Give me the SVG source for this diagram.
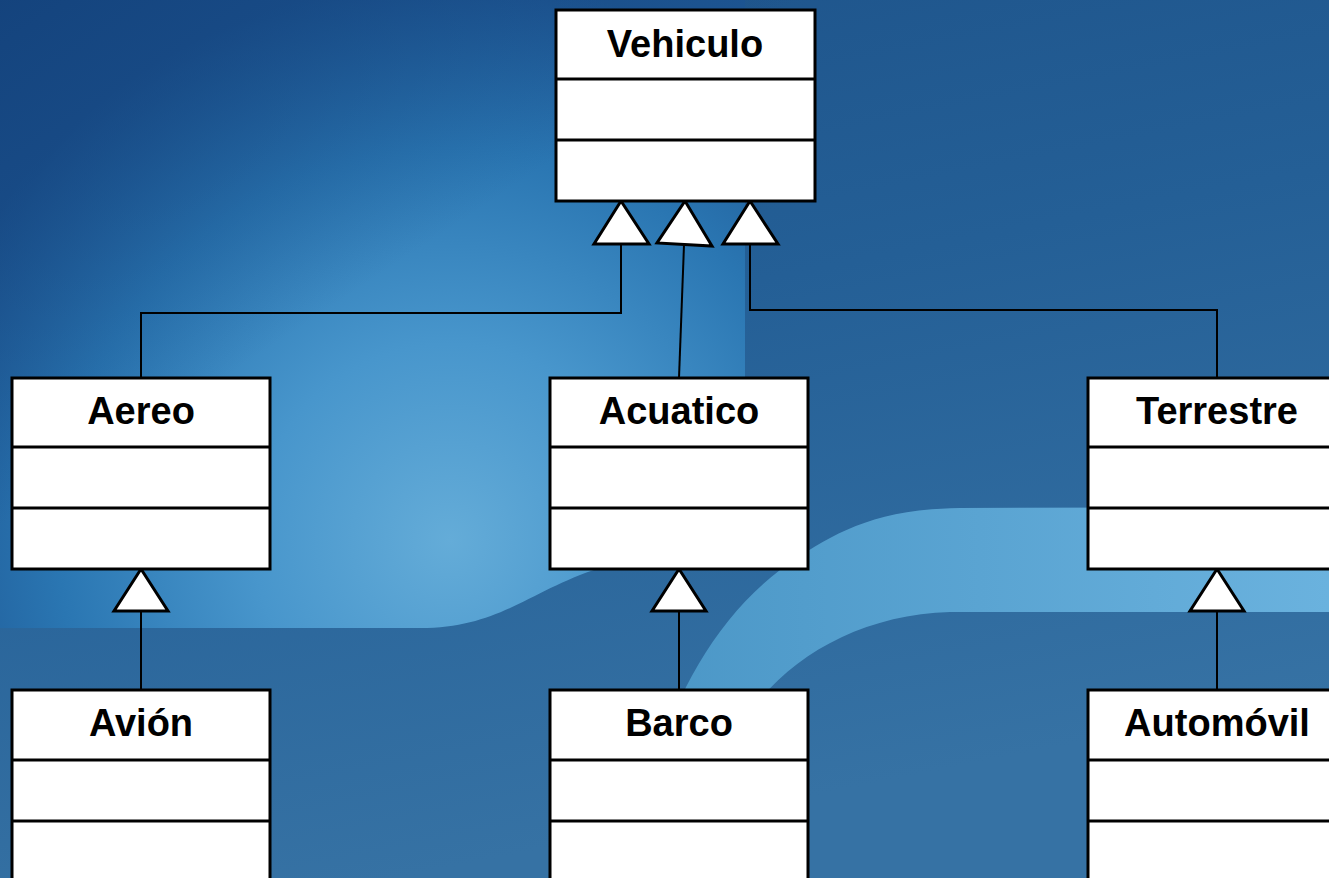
<svg xmlns="http://www.w3.org/2000/svg" width="1329" height="878" viewBox="0 0 1329 878">
<defs>
<linearGradient id="base" x1="0" y1="0" x2="0.3" y2="1">
<stop offset="0" stop-color="#1d5289"/>
<stop offset="0.45" stop-color="#245f96"/>
<stop offset="1" stop-color="#3672a4"/>
</linearGradient>
<radialGradient id="blob" cx="450" cy="540" r="560" gradientUnits="userSpaceOnUse">
<stop offset="0" stop-color="#64acd8"/>
<stop offset="0.35" stop-color="#4896cc"/>
<stop offset="0.7" stop-color="#2a76b2"/>
<stop offset="1" stop-color="#1d5592"/>
</radialGradient>
<linearGradient id="tl" x1="0" y1="0" x2="0.6" y2="0.6">
<stop offset="0" stop-color="#123f78" stop-opacity="0.8"/>
<stop offset="0.5" stop-color="#123f78" stop-opacity="0"/>
</linearGradient>
<linearGradient id="band" x1="630" y1="0" x2="1329" y2="0" gradientUnits="userSpaceOnUse">
<stop offset="0" stop-color="#4a96c6"/>
<stop offset="1" stop-color="#6ab2de"/>
</linearGradient>
<style>
.box{fill:#fff;stroke:#000;stroke-width:3}
.div{stroke:#000;stroke-width:3}
.t{font-family:"Liberation Sans",Arial,sans-serif;font-weight:bold;font-size:38px;text-anchor:middle;fill:#000}
.c{fill:none;stroke:#000;stroke-width:2}
.tri{fill:#fff;stroke:#000;stroke-width:3;stroke-linejoin:miter}
</style>
</defs>
<g id="background">
<rect x="0" y="0" width="1329" height="878" fill="url(#base)"/>
<path d="M-10,-10 L745,-10 L745,380 C745,470 700,540 600,568 C530,590 500,628 420,628 L-10,628 Z" fill="url(#blob)"/>
<rect x="0" y="0" width="1329" height="878" fill="url(#tl)"/>
<path d="M630,878 C650,740 700,620 800,556 C840,530 880,509 960,508 L1340,507 L1340,612 L950,612 C870,614 800,650 760,700 C740,730 730,800 720,878 Z" fill="url(#band)"/>
</g>
<g id="connectors">
<path class="c" d="M141,378 V313 H621 V244"/>
<path class="c" d="M679,378 L684,245"/>
<path class="c" d="M1217,378 V310 H750 V244"/>
<path class="c" d="M141,690 V611"/>
<path class="c" d="M679,690 V611"/>
<path class="c" d="M1217,690 V611"/>
<polygon class="tri" points="621,201 594,244 649,244"/>
<polygon class="tri" points="685,201 657,243 712,246"/>
<polygon class="tri" points="750,201 723,244 778,244"/>
<polygon class="tri" points="141,569 114,611 168,611"/>
<polygon class="tri" points="679,569 652,611 706,611"/>
<polygon class="tri" points="1217,569 1190,611 1244,611"/>
</g>
<g id="Vehiculo">
<rect class="box" x="556" y="10" width="259" height="191"/>
<line class="div" x1="556" y1="79" x2="815" y2="79"/>
<line class="div" x1="556" y1="140" x2="815" y2="140"/>
<text class="t" x="685" y="57">Vehiculo</text>
</g>
<g id="Aereo">
<rect class="box" x="12" y="378" width="258" height="191"/>
<line class="div" x1="12" y1="447" x2="270" y2="447"/>
<line class="div" x1="12" y1="508" x2="270" y2="508"/>
<text class="t" x="141" y="424">Aereo</text>
</g>
<g id="Acuatico">
<rect class="box" x="550" y="378" width="258" height="191"/>
<line class="div" x1="550" y1="447" x2="808" y2="447"/>
<line class="div" x1="550" y1="508" x2="808" y2="508"/>
<text class="t" x="679" y="424">Acuatico</text>
</g>
<g id="Terrestre">
<rect class="box" x="1088" y="378" width="258" height="191"/>
<line class="div" x1="1088" y1="447" x2="1346" y2="447"/>
<line class="div" x1="1088" y1="508" x2="1346" y2="508"/>
<text class="t" x="1217" y="424">Terrestre</text>
</g>
<g id="Avion">
<rect class="box" x="12" y="690" width="258" height="200"/>
<line class="div" x1="12" y1="760" x2="270" y2="760"/>
<line class="div" x1="12" y1="821" x2="270" y2="821"/>
<text class="t" x="141" y="736">Avión</text>
</g>
<g id="Barco">
<rect class="box" x="550" y="690" width="258" height="200"/>
<line class="div" x1="550" y1="760" x2="808" y2="760"/>
<line class="div" x1="550" y1="821" x2="808" y2="821"/>
<text class="t" x="679" y="736">Barco</text>
</g>
<g id="Automovil">
<rect class="box" x="1088" y="690" width="258" height="200"/>
<line class="div" x1="1088" y1="760" x2="1346" y2="760"/>
<line class="div" x1="1088" y1="821" x2="1346" y2="821"/>
<text class="t" x="1217" y="736">Automóvil</text>
</g>
</svg>
